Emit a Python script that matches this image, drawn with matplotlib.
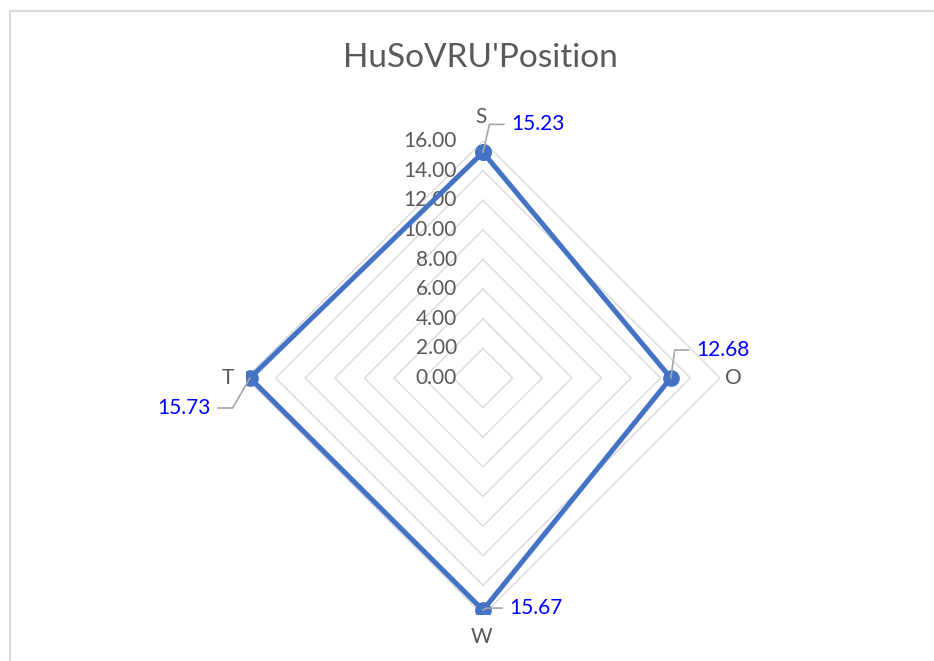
import numpy as np
import matplotlib.pyplot as plt
from matplotlib.lines import Line2D

# datos del gráfico
categorias = ['S', 'O', 'W', 'T']
valores = [15.23, 12.68, 15.67, 15.73]
anillos = [2, 4, 6, 8, 10, 12, 14, 16]
etiquetas_r = ['0.00', '2.00', '4.00', '6.00', '8.00', '10.00', '12.00', '14.00', '16.00']
valores_r = [0, 2, 4, 6, 8, 10, 12, 14, 16]

gris_texto = '#595959'
gris_rejilla = '#D9D9D9'
azul = '#4472C4'

plt.rcParams['font.family'] = ['Lato', 'DejaVu Sans']

fig = plt.figure(figsize=(9.34, 6.61), dpi=100)

# marco del gráfico (solo se ven los bordes izquierdo y superior)
x0 = 10 / 934
y1 = 1 - 11 / 661
fig.add_artist(Line2D([x0, x0], [0, y1], color=gris_rejilla, lw=1.5, transform=fig.transFigure))
fig.add_artist(Line2D([x0, 1], [y1, y1], color=gris_rejilla, lw=1.5, transform=fig.transFigure))

fig.text(480 / 934, 1 - 58 / 661, "HuSoVRU'Position", ha='center', va='center',
         fontsize=24, color=gris_texto)

ax = fig.add_axes([(483 - 237) / 934, (661 - 378 - 237) / 661, 474 / 934, 474 / 661],
                  projection='polar')
ax.set_theta_zero_location('N')
ax.set_theta_direction(-1)
ax.set_ylim(0, 16)
ax.grid(False)
ax.spines['polar'].set_visible(False)
ax.set_yticks([])
ax.set_xticks([])

theta = np.linspace(0, 2 * np.pi, len(categorias), endpoint=False)
theta_c = np.append(theta, theta[0])

# rejilla en forma de rombo
for r in anillos:
    ax.plot(theta_c, [r] * len(theta_c), color=gris_rejilla, lw=1.0, zorder=1)

# etiquetas de las categorías (desplazamiento en píxeles fuera del último anillo)
desplaz_cat = [(-2, 24), (13, 0), (-2, -22), (-18, 0)]
for th, c, (dx, dy) in zip(theta, categorias, desplaz_cat):
    ax.annotate(c, xy=(th, 16), xytext=(dx, dy), textcoords='offset pixels',
                ha='center', va='center', fontsize=15, color=gris_texto)

# etiquetas radiales a la izquierda del eje vertical
for v, t in zip(valores_r, etiquetas_r):
    ax.annotate(t, xy=(0, v), xytext=(-26, 0), textcoords='offset pixels',
                ha='right', va='center', fontsize=15, color=gris_texto)

# serie de datos
vals_c = valores + [valores[0]]
ax.plot(theta_c, vals_c, color=azul, lw=3.6, marker='o', markersize=11, zorder=3,
        solid_joinstyle='round')

# etiquetas de datos con líneas guía
desplaz = [(28, 28, 'left', 77), (25, 28, 'left', 82), (26, 2, 'left', 34), (-39, -30, 'right', 60)]
for th, v, (dx, dy, ha, ang) in zip(theta, valores, desplaz):
    ax.annotate(f'{v:.2f}', xy=(th, v), xytext=(dx, dy), textcoords='offset pixels',
                ha=ha, va='center', fontsize=15, color='#0000FF',
                arrowprops=dict(arrowstyle='-', color='#A6A6A6', lw=1.2,
                                connectionstyle=f'angle,angleA=0,angleB={ang},rad=0',
                                relpos=(0 if ha == 'left' else 1, 0.5),
                                shrinkA=3, shrinkB=0))

fig.savefig('out.png', dpi=100)
